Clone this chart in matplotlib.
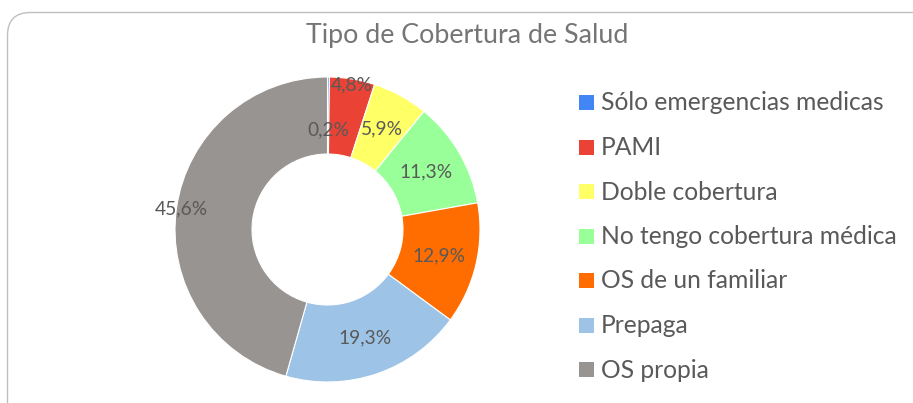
import matplotlib
matplotlib.use("Agg")
import matplotlib.pyplot as plt
from matplotlib.patches import FancyBboxPatch, Rectangle
import numpy as np

plt.rcParams['font.family'] = ['Lato', 'DejaVu Sans']

# ---- data ----
title = "Tipo de Cobertura de Salud"
categories = ["Sólo emergencias medicas", "PAMI", "Doble cobertura",
              "No tengo cobertura médica", "OS de un familiar", "Prepaga", "OS propia"]
values = [0.2, 4.8, 5.9, 11.3, 12.9, 19.3, 45.6]
colors = ["#4285F4", "#EA4335", "#FFFF66", "#99FF99", "#FF6D00", "#9DC3E6", "#989492"]
# label radial positions (fraction of outer radius)
label_radius = [0.652, 0.96, 0.75, 0.75, 0.75, 0.75, 0.965]

TXT = "#595959"
TITLE_C = "#757575"
W, H = 913, 403
fig = plt.figure(figsize=(W / 100, H / 100), dpi=100)

# background / overlay axes in pixel coordinates
bg = fig.add_axes([0, 0, 1, 1], zorder=0)
bg.set_xlim(0, W)
bg.set_ylim(H, 0)
bg.axis("off")
border = FancyBboxPatch((7.5, 12.5), W + 40, H + 40,
                        boxstyle="round,pad=0,rounding_size=23",
                        facecolor="white", edgecolor="#BFBFBF", linewidth=1.0)
bg.add_patch(border)

t_title = bg.text(467, 43.5, title, ha="center", va="baseline", color=TITLE_C, fontsize=17)

# pie axes
cx, cy, R = 327.5, 229.5, 152.5
half = R * 1.25
ax = fig.add_axes([(cx - half) / W, (H - cy - half) / H, 2 * half / W, 2 * half / H], zorder=1)
ax.patch.set_alpha(0)
wedges, _ = ax.pie(values, colors=colors, startangle=90, counterclock=False,
                   wedgeprops=dict(width=0.505, edgecolor="white", linewidth=0.8))
ax.set_xlim(-1.25, 1.25)
ax.set_ylim(-1.25, 1.25)
ax.set_aspect("equal")
ax.axis("off")

label_texts = []
for w, v, r in zip(wedges, values, label_radius):
    th = np.deg2rad((w.theta1 + w.theta2) / 2)
    s = f"{v:.1f}%".replace(".", ",")
    t = ax.text(r * np.cos(th), r * np.sin(th), s, ha="center", va="center",
                color=TXT, fontsize=14)
    label_texts.append(t)

# legend (manual, Excel-like)
leg_x, leg_y0, leg_dy, sq = 579, 102.5, 44.5, 15
leg_texts = []
for i, (lab, col) in enumerate(zip(categories, colors)):
    yc = leg_y0 + i * leg_dy
    bg.add_patch(Rectangle((leg_x, yc - sq / 2), sq, sq, facecolor=col, edgecolor="none"))
    t = bg.text(601, yc + 8.0, lab, ha="left", va="baseline", color=TXT, fontsize=16)
    leg_texts.append(t)

# fit font sizes to reference text widths
fig.canvas.draw()
rend = fig.canvas.get_renderer()

def scale_group(texts, ref, target):
    wpx = ref.get_window_extent(rend).width
    f = target / wpx
    for t in texts:
        t.set_fontsize(t.get_fontsize() * f)

scale_group([t_title], t_title, 321)
scale_group(leg_texts, leg_texts[0], 283)
scale_group(label_texts, label_texts[-1], 53)

fig.savefig("out.png", dpi=100)
